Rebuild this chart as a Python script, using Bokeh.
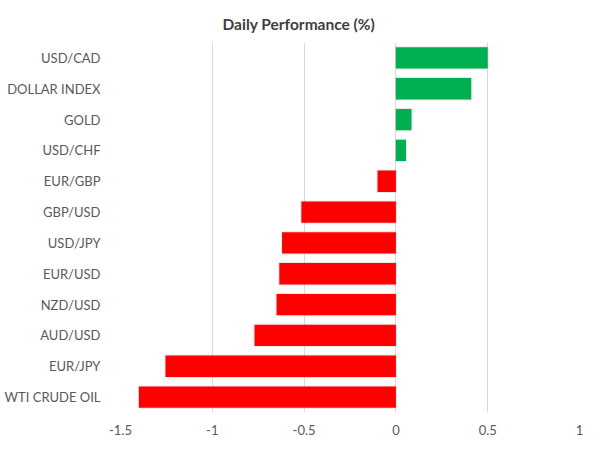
from bokeh.plotting import figure
from bokeh.models import Range1d, FactorRange, FixedTicker, ColumnDataSource, Title
from bokeh.embed import file_html
from bokeh.resources import INLINE

categories = ["USD/CAD", "DOLLAR INDEX", "GOLD", "USD/CHF", "EUR/GBP", "GBP/USD",
              "USD/JPY", "EUR/USD", "NZD/USD", "AUD/USD", "EUR/JPY", "WTI CRUDE OIL"]
values = [0.50, 0.41, 0.085, 0.055, -0.10, -0.515, -0.62, -0.635, -0.65, -0.77, -1.255, -1.40]
tick_values = [-1.5, -1, -0.5, 0, 0.5, 1]
tick_labels = ["-1.5", "-1", "-0.5", "0", "0.5", "1"]
title_text = "Daily Performance (%)"

GREEN = "#00B050"
RED = "#FF0000"
colors = [GREEN if v >= 0 else RED for v in values]

source = ColumnDataSource(dict(cat=categories, val=values, color=colors))

p = figure(
    width=584, height=437,
    y_range=FactorRange(factors=list(reversed(categories))),
    x_range=Range1d(-1.5, 1),
    output_backend="svg", toolbar_location=None,
    min_border_left=120, min_border_right=5, min_border_top=42, min_border_bottom=21,
)

t = Title(text=title_text, align="left", offset=102, standoff=19,
          text_font="Lato", text_font_size="15.5px", text_font_style="bold",
          text_color="#404040")
p.add_layout(t, "above")

# soft shadow
p.hbar(y="cat", right="val", left=0, height=0.69, source=source,
       fill_alpha=0.0, line_color="#8a8a8a", line_alpha=0.2, line_width=2)
p.hbar(y="cat", right="val", left=0, height=0.69, source=source,
       fill_color="color", line_color=None)

p.xaxis.ticker = FixedTicker(ticks=tick_values)
p.xaxis.major_label_overrides = {v: l for v, l in zip(tick_values, tick_labels)}
for ax in (p.xaxis[0], p.yaxis[0]):
    ax.axis_line_color = None
    ax.major_tick_line_color = None
    ax.minor_tick_line_color = None
    ax.major_label_text_font = "Lato"
    ax.major_label_text_font_size = "13px"
    ax.major_label_text_color = "#595959"
p.xaxis.major_label_standoff = 6
p.yaxis.major_label_standoff = 14

p.xgrid.ticker = FixedTicker(ticks=tick_values)
p.xgrid.grid_line_color = "#D9D9D9"
p.ygrid.grid_line_color = None
p.outline_line_color = None
p.background_fill_color = "white"
p.border_fill_color = "white"

open("out.html", "w").write(file_html(p, INLINE))
